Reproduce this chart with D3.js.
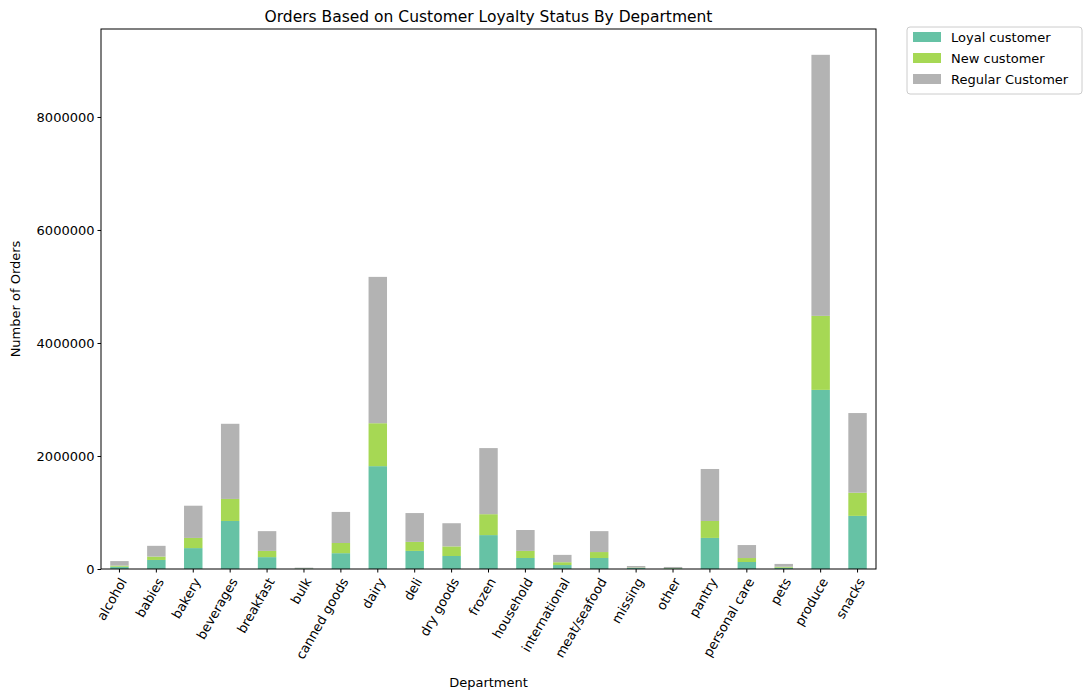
<!DOCTYPE html>
<html>
<head>
<meta charset="utf-8">
<script src="https://cdn.jsdelivr.net/npm/d3@7"></script>
<style>
  body { margin: 0; background: #fff; font-family: "DejaVu Sans", sans-serif; }
  text { font-family: "DejaVu Sans", sans-serif; }
</style>
</head>
<body>
<svg></svg>
<script>
let departments = ['alcohol', 'babies', 'bakery', 'beverages', 'breakfast', 'bulk', 'canned goods',
  'dairy', 'deli', 'dry goods', 'frozen', 'household', 'international', 'meat/seafood', 'missing',
  'other', 'pantry', 'personal care', 'pets', 'produce', 'snacks']
let loyal = [40000, 160000, 370000, 850000, 210000, 8000, 280000, 1820000, 320000, 230000, 600000,
  195000, 70000, 195000, 18000, 12000, 550000, 124000, 24000, 3170000, 940000]
let newCust = [20000, 60000, 180000, 390000, 110000, 3000, 180000, 760000, 160000, 170000, 370000,
  125000, 50000, 105000, 7000, 5000, 300000, 70000, 16000, 1310000, 410000]
let regular = [80000, 190000, 570000, 1330000, 350000, 12000, 550000, 2590000, 510000, 410000, 1170000,
  370000, 130000, 370000, 28000, 19000, 920000, 230000, 50000, 4620000, 1410000]
let seriesNames = ['Loyal customer', 'New customer', 'Regular Customer']
let colors = ['#66c2a5', '#a6d854', '#b3b3b3']
let yTicks = [0, 2000000, 4000000, 6000000, 8000000]

let width = 1091
let height = 699
let pLeft = 101, pRight = 876, pTop = 29, pBottom = 569

let rows = departments.map((d, i) => ({
  dept: d, 'Loyal customer': loyal[i], 'New customer': newCust[i], 'Regular Customer': regular[i]
}))
let stacked = d3.stack().keys(seriesNames)(rows)

let svg = d3.select('svg').attr('width', width).attr('height', height)

let xScale = d3.scaleBand().domain(departments).range([pLeft, pRight]).paddingInner(0.5).paddingOuter(0.25)
let yScale = d3.scaleLinear().domain([0, 9557000]).range([pBottom, pTop])

svg.selectAll('g.layer')
   .data(stacked)
   .enter()
   .append('g')
   .attr('fill', (s, i) => colors[i])
   .selectAll('rect')
   .data(s => s)
   .enter()
   .append('rect')
   .attr('x', d => xScale(d.data.dept))
   .attr('width', xScale.bandwidth())
   .attr('y', d => yScale(d[1]))
   .attr('height', d => yScale(d[0]) - yScale(d[1]))

let xAxis = d3.axisBottom(xScale).tickSizeOuter(0).tickSize(3.5)
let gx = svg.append('g')
   .attr('transform', 'translate(0, ' + pBottom + ')')
   .call(xAxis)
gx.select('.domain').remove()
gx.selectAll('text')
  .attr('font-size', 13)
  .attr('fill', '#000')
  .attr('text-anchor', 'end')
  .attr('x', 0).attr('y', 0)
  .attr('dy', '0.35em')
  .attr('transform', 'translate(4, 10) rotate(-60)')

let yAxis = d3.axisLeft(yScale).tickValues(yTicks).tickFormat(d3.format('d')).tickSize(3.5)
let gy = svg.append('g')
   .attr('transform', 'translate(' + pLeft + ', 0)')
   .call(yAxis)
gy.select('.domain').remove()
gy.selectAll('text').attr('font-size', 13).attr('fill', '#000')

svg.append('rect')
   .attr('x', pLeft).attr('y', pTop)
   .attr('width', pRight - pLeft).attr('height', pBottom - pTop)
   .attr('fill', 'none').attr('stroke', '#000').attr('stroke-width', 1)

svg.append('text')
   .attr('x', (pLeft + pRight) / 2).attr('y', 22)
   .attr('text-anchor', 'middle').attr('font-size', 15.5)
   .text('Orders Based on Customer Loyalty Status By Department')

svg.append('text')
   .attr('x', (pLeft + pRight) / 2).attr('y', 687)
   .attr('text-anchor', 'middle').attr('font-size', 13)
   .text('Department')

svg.append('text')
   .attr('transform', 'translate(20, ' + ((pTop + pBottom) / 2) + ') rotate(-90)')
   .attr('text-anchor', 'middle').attr('font-size', 13)
   .text('Number of Orders')

let legend = svg.append('g')
legend.append('rect')
   .attr('x', 907).attr('y', 27).attr('width', 175).attr('height', 67).attr('rx', 3)
   .attr('fill', '#fff').attr('stroke', '#ccc')
seriesNames.forEach((name, i) => {
  legend.append('rect')
     .attr('x', 913).attr('y', 32 + i * 21).attr('width', 28).attr('height', 10)
     .attr('fill', colors[i])
  legend.append('text')
     .attr('x', 951).attr('y', 42 + i * 21).attr('font-size', 13)
     .text(name)
})
</script>
</body>
</html>
